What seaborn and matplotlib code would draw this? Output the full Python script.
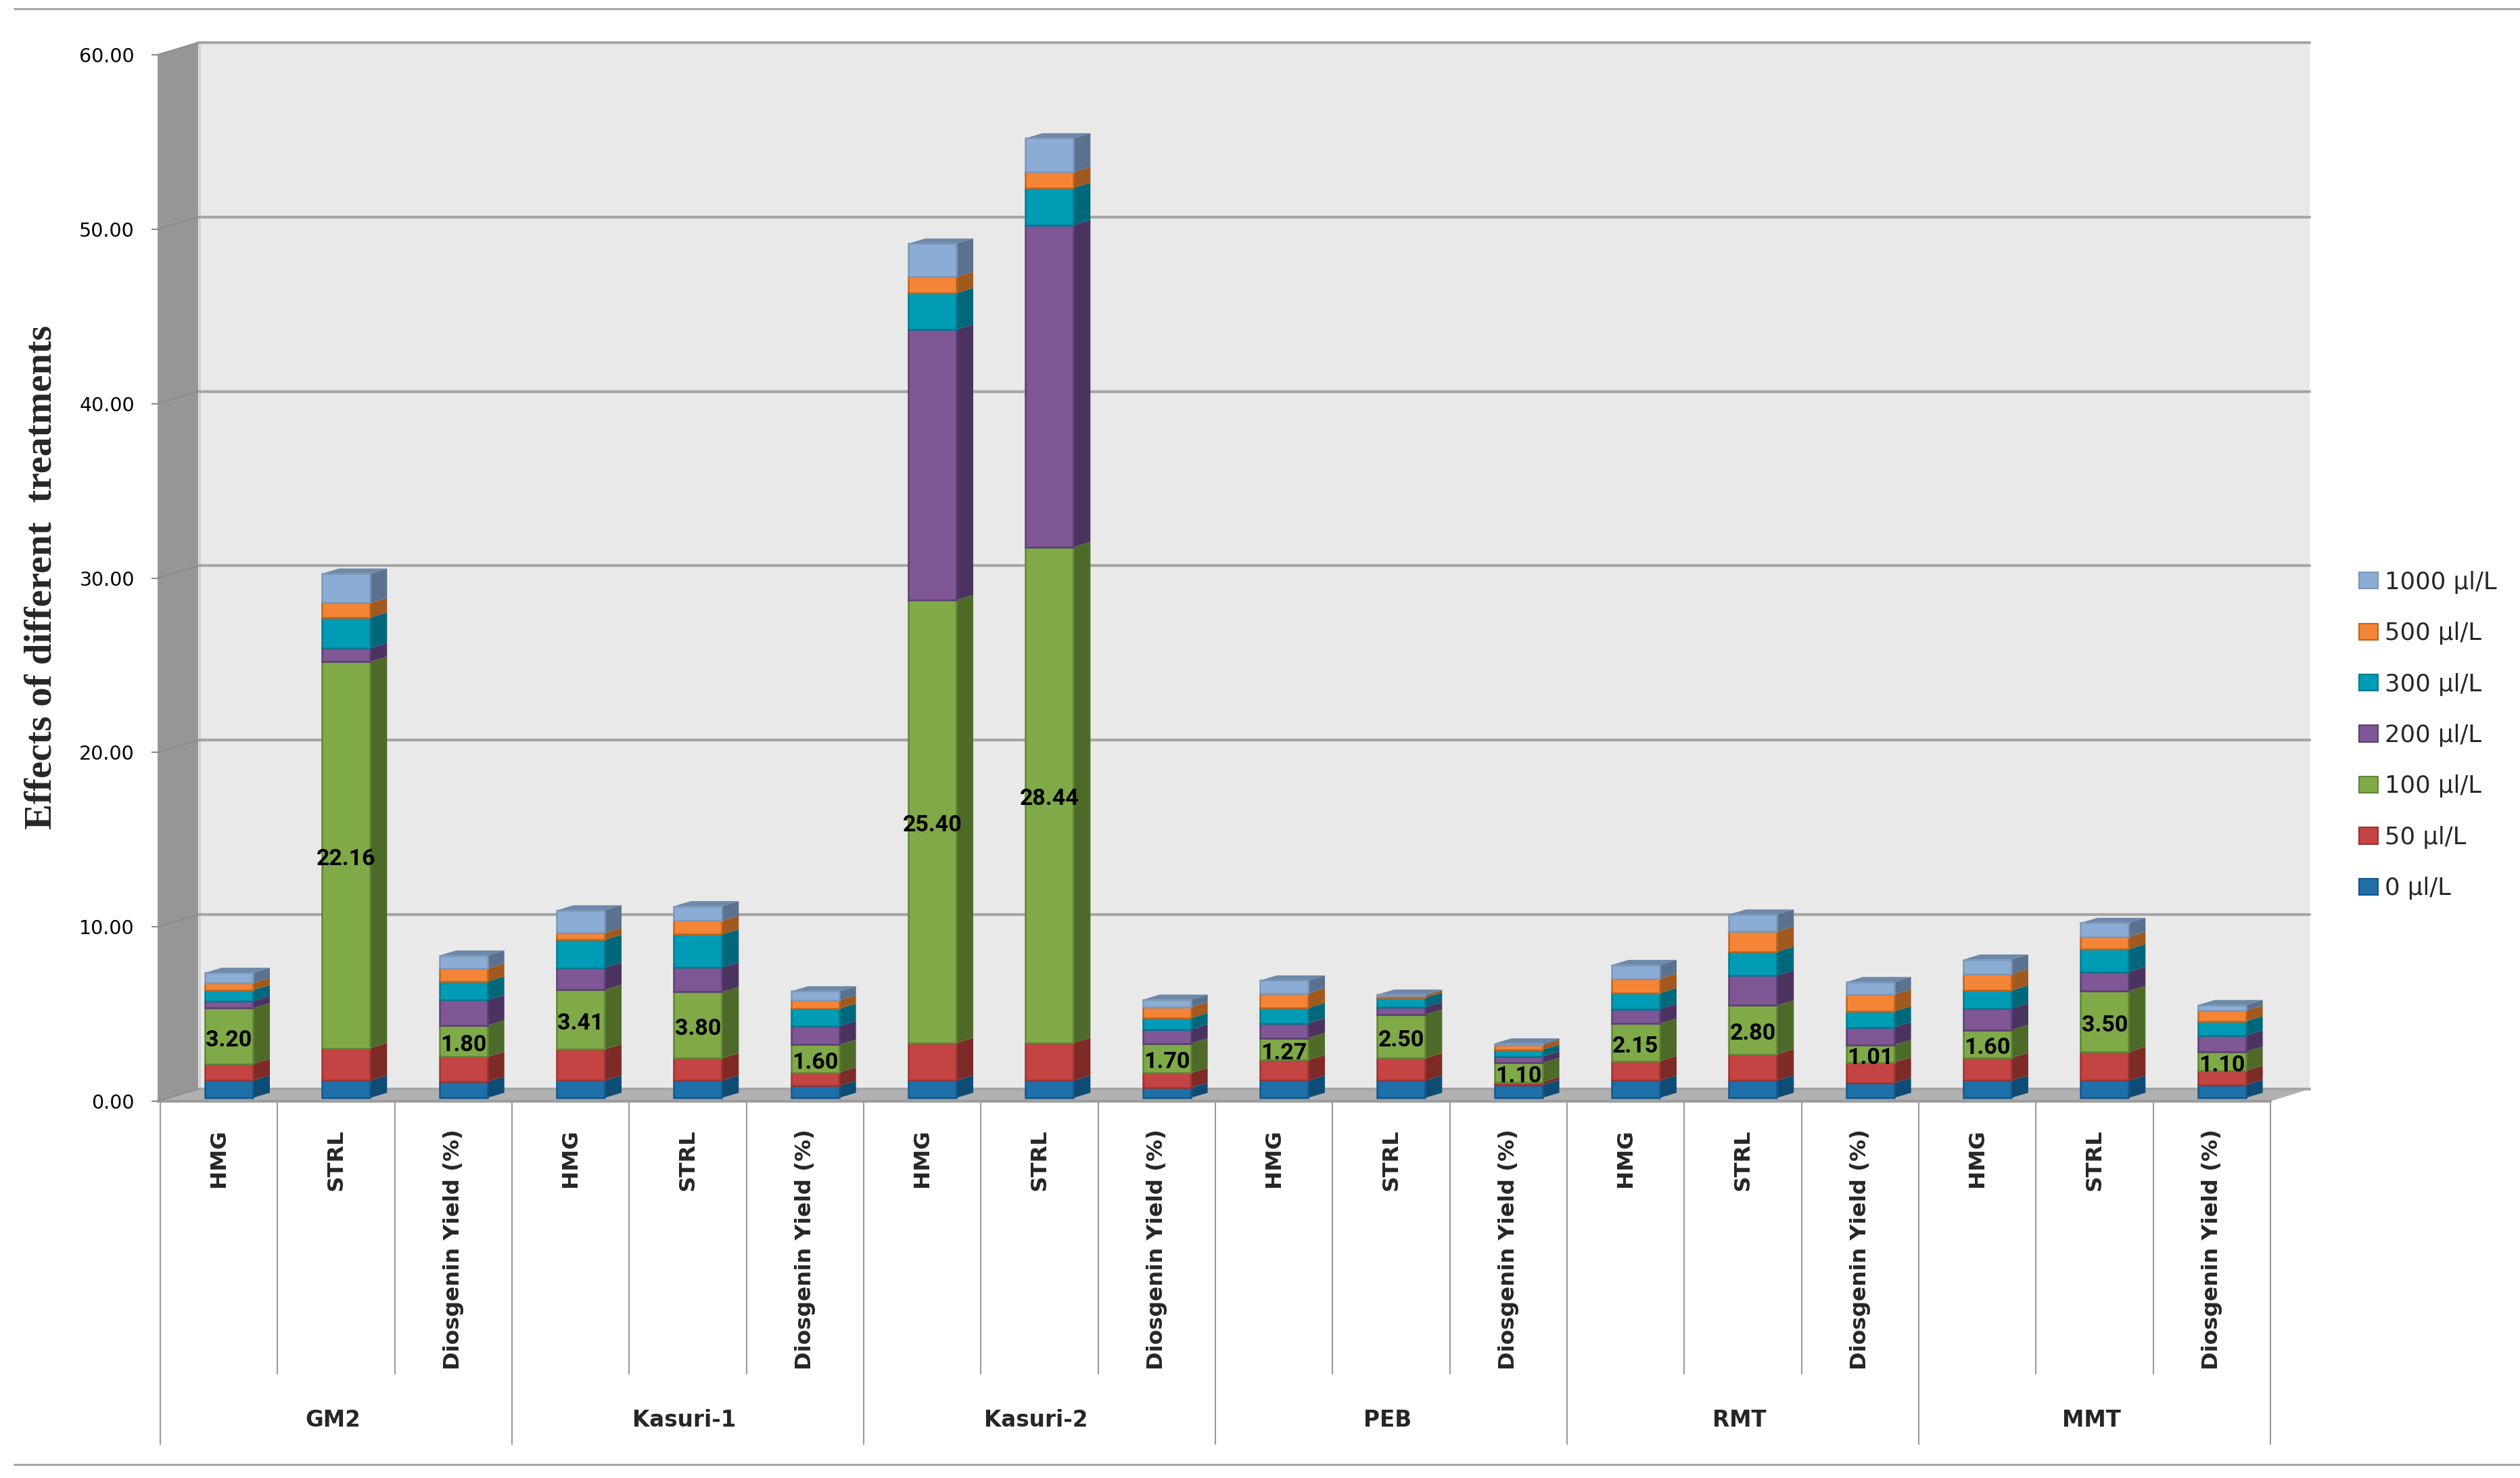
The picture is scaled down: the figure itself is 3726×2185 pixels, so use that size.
import numpy as np
import pandas as pd
import seaborn as sns
import matplotlib
matplotlib.use("Agg")
import matplotlib.pyplot as plt
from matplotlib.lines import Line2D
from matplotlib.patches import Patch, Polygon

# Groups and treatments on the two level x axis
groups = ["GM2", "Kasuri-1", "Kasuri-2", "PEB", "RMT", "MMT"]
treatments = ["HMG", "STRL", "Diosgenin Yield (%)"]
y_ticks = [0, 10, 20, 30, 40, 50, 60]

# One value per bar
v_0 = [1.00, 1.00, 0.93, 1.00, 1.00, 0.69, 1.00, 1.00, 0.58, 1.00, 1.00, 0.74, 1.00, 1.00, 0.87, 1.00, 1.00, 0.75]
v_50 = [0.94, 1.85, 1.42, 1.78, 1.27, 0.76, 2.15, 2.15, 0.84, 1.16, 1.27, 0.17, 1.11, 1.50, 1.16, 1.29, 1.63, 0.80]
v_100 = [3.20, 22.16, 1.80, 3.41, 3.80, 1.60, 25.40, 28.44, 1.70, 1.27, 2.50, 1.10, 2.15, 2.80, 1.01, 1.60, 3.50, 1.10]
v_200 = [0.42, 0.78, 1.46, 1.27, 1.40, 1.06, 15.50, 18.46, 0.80, 0.85, 0.43, 0.36, 0.84, 1.72, 1.01, 1.24, 1.10, 0.93]
v_300 = [0.62, 1.75, 1.06, 1.60, 1.90, 1.00, 2.09, 2.13, 0.65, 0.87, 0.54, 0.39, 0.90, 1.36, 0.91, 1.03, 1.29, 0.81]
v_500 = [0.41, 0.84, 0.75, 0.40, 0.78, 0.48, 0.93, 0.90, 0.62, 0.84, 0.13, 0.26, 0.84, 1.16, 0.97, 0.93, 0.71, 0.61]
v_1000 = [0.58, 1.68, 0.74, 1.29, 0.84, 0.52, 1.91, 1.94, 0.44, 0.74, 0.05, 0.10, 0.78, 0.97, 0.71, 0.84, 0.80, 0.32]

series_names = ["0 µl/L", "50 µl/L", "100 µl/L", "200 µl/L", "300 µl/L", "500 µl/L", "1000 µl/L"]
series_values = [v_0, v_50, v_100, v_200, v_300, v_500, v_1000]
front_colors = ["#1F6FA8", "#C44343", "#80A948", "#7E5794", "#009CB6", "#F58536", "#8BACD4"]
side_colors = ["#0F4C75", "#7E2A27", "#4E6A29", "#4B3360", "#00687A", "#A0591E", "#5A7290"]
edge_colors = ["#17568A", "#9A3431", "#5F8536", "#5B3F73", "#00798E", "#C0641E", "#7C97B8"]

W, H = 3726, 2185
CAT = 173.33   # pixels per bar slot
UNIT = 25.78   # pixels per y unit
BAR0 = 338.5   # centre of the first bar


def dx(px):
    return px / CAT


def dy(px):
    return px / UNIT


def xpos(px):
    return (px - BAR0) / CAT


def ypos(px):
    return (1628 - px) / UNIT


sns.set_style("white")
plt.rcParams["font.family"] = ["DejaVu Sans"]

fig = plt.figure(figsize=(W / 100, H / 100), dpi=100)
ax = fig.add_axes([233 / W, 1 - 1628 / H, (3357 - 233) / W, (1628 - 81) / H])
ax.patch.set_visible(False)

# Walls and floor of the 3D box
ax.add_patch(Polygon([(xpos(293), ypos(1610)), (xpos(3415), ypos(1610)), (xpos(3415), ypos(62)), (xpos(293), ypos(62))],
                     closed=True, fc="#E9E9E9", ec="none", clip_on=False, zorder=0.5))
ax.add_patch(Polygon([(xpos(233), ypos(1628)), (xpos(293), ypos(1610)), (xpos(293), ypos(62)), (xpos(233), ypos(81))],
                     closed=True, fc="#969696", ec="none", clip_on=False, zorder=0.6))
ax.add_patch(Polygon([(xpos(233), ypos(1628)), (xpos(3357), ypos(1628)), (xpos(3415), ypos(1610)), (xpos(293), ypos(1610))],
                     closed=True, fc="#B1B1B1", ec="none", clip_on=False, zorder=0.6))
ax.plot([xpos(295), xpos(295)], [ypos(1610), ypos(62)], color="#D2D2D2", lw=2.2, clip_on=False, zorder=0.7)
ax.plot([xpos(233), xpos(3357)], [0, 0], color="#9C9C9C", lw=3, clip_on=False, zorder=0.8)

for t in y_ticks:
    back = t + dy(18)
    ax.plot([xpos(293), xpos(3415)], [back, back], color="#A6A6A6", lw=3, clip_on=False, zorder=0.8)
    ax.plot([xpos(233), xpos(293)], [t, back], color="#8C8C8C", lw=1.5, clip_on=False, zorder=0.8)

# Stacked bars, the front faces come from seaborn
positions = np.arange(len(v_0))
lift = dy(5)
bar_w = 71 / CAT
depth_x, depth_y = dx(25), dy(7.5)
bottom = np.zeros(len(v_0))
for values, color, side, edge in zip(series_values, front_colors, side_colors, edge_colors):
    df = pd.DataFrame({"pos": positions, "value": values})
    sns.barplot(data=df, x="pos", y="value", color=color, saturation=1, width=bar_w, bottom=bottom + lift,
                edgecolor=edge, linewidth=1.8, errorbar=None, zorder=3, ax=ax)
    for i, v in enumerate(values):
        xr = i + bar_w / 2
        b = bottom[i] + lift
        ax.add_patch(Polygon([(xr, b), (xr + depth_x, b + depth_y), (xr + depth_x, b + v + depth_y), (xr, b + v)],
                             closed=True, fc=side, ec="none", clip_on=False, zorder=2.9))
    bottom = bottom + np.array(values)

# Lid on each stack
for i, total in enumerate(bottom):
    xl, xr = i - bar_w / 2, i + bar_w / 2
    top = total + lift
    ax.add_patch(Polygon([(xl, top), (xl + depth_x, top + depth_y), (xr + depth_x, top + depth_y), (xr, top)],
                         closed=True, fc="#6E88A8", ec="none", clip_on=False, zorder=2.9))

# Labels on the 100 µl/L segments
for i, v in enumerate(v_100):
    mid = v_0[i] + v_50[i] + v / 2 + lift - dy(6)
    ax.text(i, mid, f"{v:.2f}", ha="center", va="center", fontsize=24.5, fontweight="bold",
            family="Roboto", color="black", zorder=5)

ax.set_xlim(xpos(233), xpos(3357))
ax.set_ylim(0, 60)
ax.set_xlabel("")
ax.set_ylabel("")
ax.set_xticks([])
ax.set_yticks(y_ticks)
ax.set_yticklabels([f"{t:.2f}" for t in y_ticks], fontsize=20.5, color="black")
ax.tick_params(axis="y", left=True, length=6.5, width=1.5, color="#8C8C8C", pad=18)
sns.despine(ax=ax, left=True, bottom=True)

# Two level category axis below the floor
for i in range(len(v_0) + 1):
    x = xpos(237 + i * CAT)
    end = 2135 if i % len(treatments) == 0 else 2031
    ax.plot([x, x], [ypos(1628), ypos(end)], color="#9A9A9A", lw=1.5, clip_on=False, zorder=1)
for i in range(len(v_0)):
    x = xpos(237 + (i + 0.5) * CAT)
    ax.text(x, ypos(1669), treatments[i % len(treatments)], rotation=90, ha="center", va="top",
            fontsize=23.2, fontweight="bold")
for g, name in enumerate(groups):
    x = xpos(232 + (g + 0.5) * len(treatments) * CAT)
    ax.text(x, ypos(2099), name, ha="center", va="center", fontsize=23.5, fontweight="bold")

fig.text(62 / W, 1 - 853 / H, "Effects of different  treatments", rotation=90, ha="center", va="center",
         fontsize=41, fontweight="bold", family="Liberation Serif")

handles = [Patch(fc=c, ec=e, lw=1.5, label=n) for c, e, n in zip(front_colors, edge_colors, series_names)][::-1]
fig.legend(handles=handles, loc="center left", bbox_to_anchor=(3488 / W, 1 - 1087 / H), frameon=False, fontsize=25.5,
           handlelength=0.79, handleheight=0.68, handletextpad=0.28, labelspacing=1.17, borderpad=0, borderaxespad=0)

# Thin rules closing the picture at top and bottom
fig.add_artist(Line2D([21 / W, 1], [1 - 13 / H, 1 - 13 / H], color="#A0A0A0", lw=2))
fig.add_artist(Line2D([21 / W, 1], [1 - 2165 / H, 1 - 2165 / H], color="#A0A0A0", lw=2))

fig.savefig("out.png", dpi=100, facecolor="white")
